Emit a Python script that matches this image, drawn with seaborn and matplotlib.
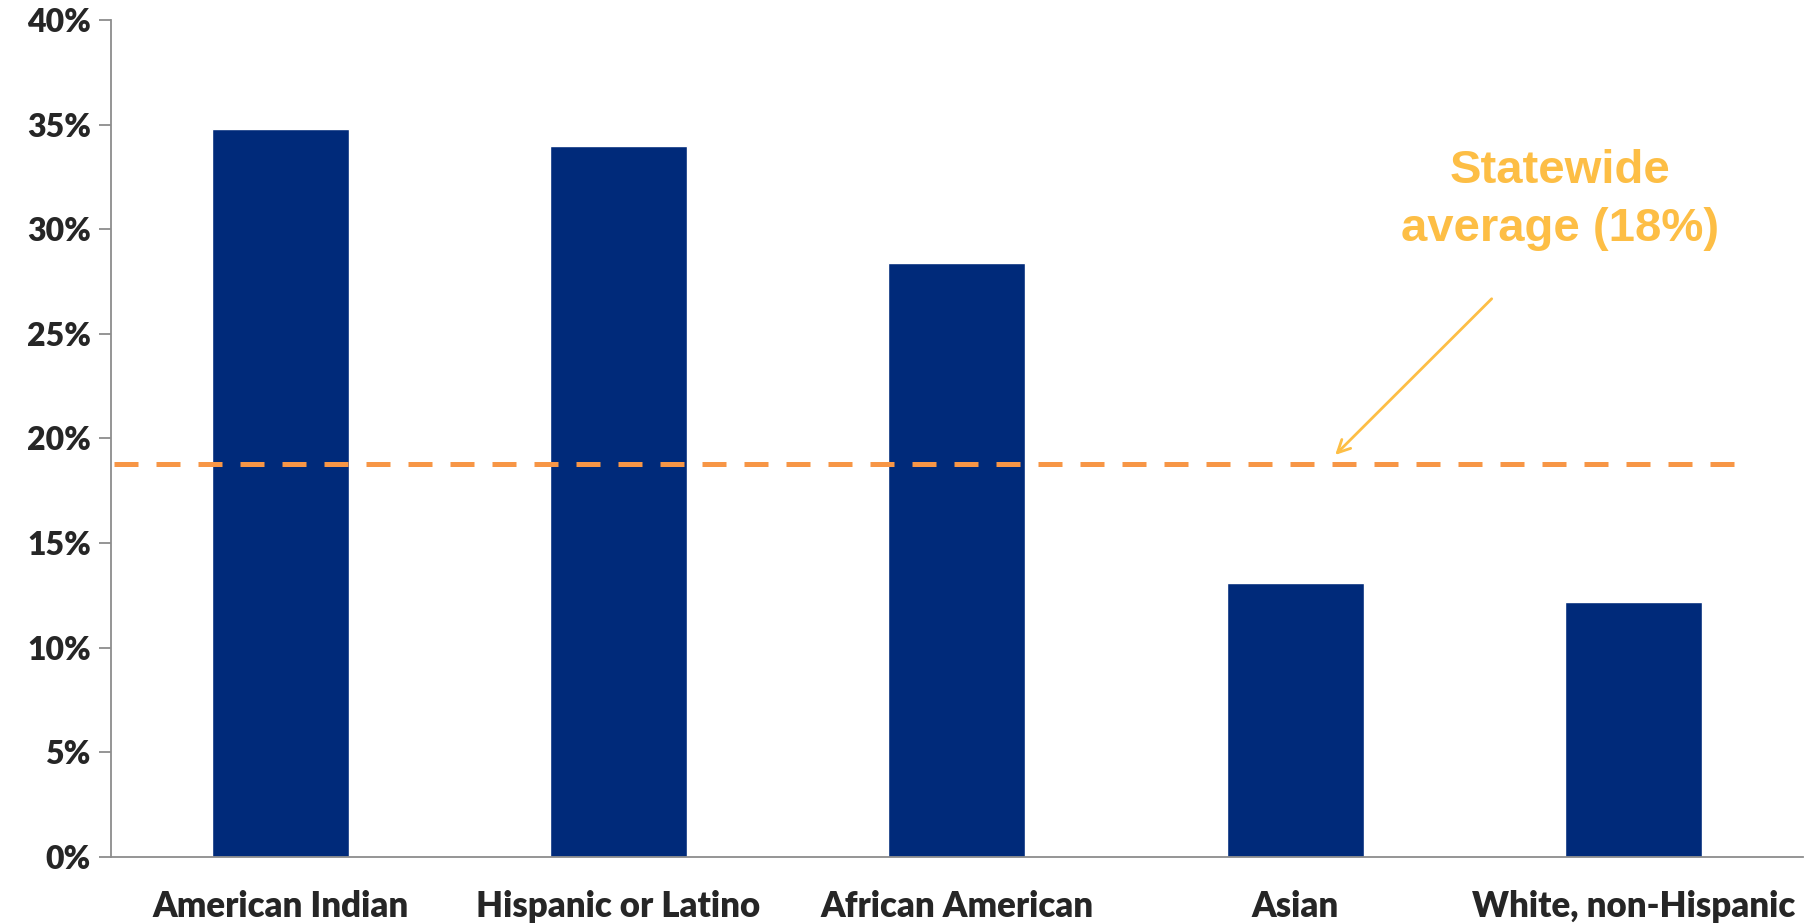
import numpy as np
import pandas as pd
import seaborn as sns
import matplotlib.pyplot as plt
from matplotlib.ticker import FixedLocator, FuncFormatter

sns.set_style('white')
plt.rcParams['font.family'] = ['Lato', 'DejaVu Sans']

# data (percent)
groups = ['American Indian', 'Hispanic or Latino', 'African American', 'Asian', 'White, non-Hispanic']
rates = [34.8, 34.0, 28.4, 13.1, 12.2]
statewide_avg = 18.8
avg_label = 'Statewide\naverage (18%)'
yticks = [0, 5, 10, 15, 20, 25, 30, 35, 40]

df = pd.DataFrame({'group': groups, 'rate': rates})

fig = plt.figure(figsize=(18.1, 9.24), dpi=100)
ax = fig.add_axes([0.0613, 0.0725, 0.9348, 0.9059])

sns.barplot(data=df, x='group', y='rate', color='#002A7A', saturation=1,
            width=0.405, ax=ax)

# statewide average line
ax.axhline(statewide_avg, xmin=0.002, xmax=0.962, color='#F79646', lw=3.6,
           linestyle=(0, (4.8, 3.6)))

ax.annotate('', xy=(3.112, 19.12), xytext=(3.586, 26.77),
            arrowprops=dict(arrowstyle='->,head_length=0.9,head_width=0.45',
                            color='#FDBE45', lw=2))
ax.text(3.781, 31.4, avg_label, ha='center', va='center', fontsize=34,
        fontweight='bold', color='#FDBE45', linespacing=1.4,
        family=['Liberation Sans', 'DejaVu Sans'])

ax.set_xlim(-0.5, len(groups) - 0.5)
ax.set_ylim(0, 40)
ax.set_yticks(yticks)
ax.yaxis.set_major_formatter(FuncFormatter(lambda v, p: f'{v:.0f}%'))
ax.set_xlabel('')
ax.set_ylabel('')

# category separator ticks on the x axis
ax.xaxis.set_minor_locator(FixedLocator(np.arange(-0.5, len(groups), 1.0)))
ax.tick_params(axis='x', which='major', length=0, pad=24, labelsize=25)
ax.tick_params(axis='x', which='minor', length=8.5, width=1.3, color='#8C8C8C', direction='out')
ax.tick_params(axis='y', length=8.5, width=1.3, color='#8C8C8C', direction='out',
               labelsize=23, pad=6, left=True)
for lab in ax.get_xticklabels() + ax.get_yticklabels():
    lab.set_fontweight('heavy')

for side in ['top', 'right']:
    ax.spines[side].set_visible(False)
for side in ['left', 'bottom']:
    ax.spines[side].set_color('#8C8C8C')
    ax.spines[side].set_linewidth(1.3)

plt.savefig('out.png', dpi=100)
